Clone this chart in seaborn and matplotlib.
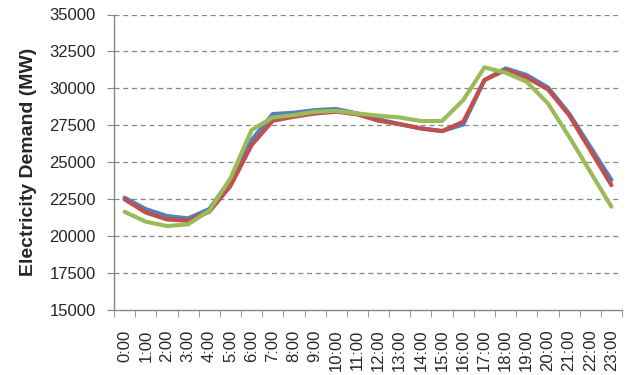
import numpy as np
import pandas as pd
import matplotlib
matplotlib.use('Agg')
import matplotlib.pyplot as plt
import seaborn as sns

hours = ['%d:00' % h for h in range(24)]
series_a = [22600, 21830, 21360, 21200, 21830, 23800, 26500, 28260, 28350, 28530, 28600, 28300,
            27900, 27580, 27290, 27110, 27560, 30560, 31350, 30900, 30060, 28300, 26050, 23800]
series_b = [22490, 21600, 21130, 21040, 21650, 23390, 26160, 27810, 28080, 28300, 28420, 28240,
            27810, 27580, 27290, 27110, 27740, 30560, 31240, 30740, 29930, 28190, 25820, 23450]
series_c = [21650, 20980, 20680, 20800, 21720, 23910, 27180, 28030, 28190, 28420, 28480, 28300,
            28150, 28030, 27790, 27790, 29210, 31420, 31060, 30450, 28980, 26730, 24360, 21990]
yticks = list(range(15000, 35001, 2500))

df = pd.DataFrame({
    'hour': list(range(24)) * 3,
    'demand': series_a + series_b + series_c,
    'series': ['a'] * 24 + ['b'] * 24 + ['c'] * 24,
})

sns.set_style('white')
plt.rcParams['font.family'] = ['Liberation Sans', 'DejaVu Sans']

fig = plt.figure(figsize=(6.31, 3.75), dpi=100)
ax = fig.add_axes([114 / 631, 65 / 375, (622 - 114) / 631, (360.5 - 65) / 375])

sns.lineplot(data=df, x='hour', y='demand', hue='series',
             palette={'a': '#4F81BD', 'b': '#C0504D', 'c': '#9BBB59'},
             linewidth=3, legend=False, ax=ax)

ax.set_xlim(-0.5, 23.5)
ax.set_ylim(15000, 35000)
ax.set_yticks(yticks)
ax.set_yticklabels([str(v) for v in yticks], fontsize=12)
ax.set_xticks(range(24))
ax.set_xticklabels(hours, rotation=90, fontsize=12)
ax.set_xticks(np.arange(-0.5, 24, 1), minor=True)
ax.tick_params(axis='x', which='major', length=0, pad=14)
ax.tick_params(axis='x', which='minor', length=5, color='#868686', direction='out', bottom=True)
ax.tick_params(axis='y', length=5, color='#868686', direction='out', left=True, pad=8)

for v in yticks[1:]:
    ax.axhline(v, color='#868686', linestyle=(0, (4, 3)), linewidth=0.9, zorder=0)

for s in ['top', 'right']:
    ax.spines[s].set_visible(False)
for s in ['left', 'bottom']:
    ax.spines[s].set_color('#868686')
    ax.spines[s].set_linewidth(1)

ax.set_xlabel('')
ax.set_ylabel('Electricity Demand (MW)', fontsize=14, fontweight='bold', labelpad=9)

fig.savefig('out.png', dpi=100)
